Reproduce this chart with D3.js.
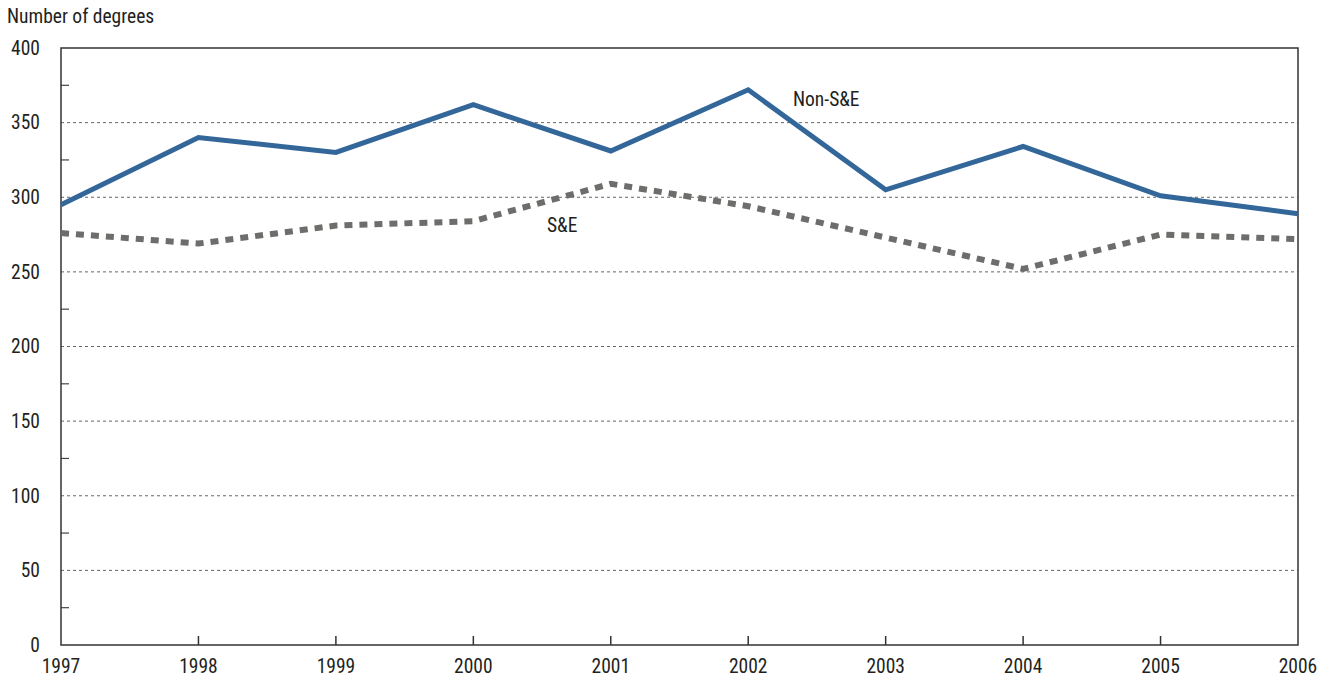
<!DOCTYPE html>
<html><head><meta charset="utf-8">
<script src="https://cdn.jsdelivr.net/npm/d3@7"></script>
<style>
body{margin:0;background:#fff;}
text{font-family:"Liberation Sans Narrow","Arial Narrow","Roboto Condensed",sans-serif;fill:#231f20;}
</style></head>
<body><svg id="c" width="1328" height="683"></svg>
<script>
const years = [1997,1998,1999,2000,2001,2002,2003,2004,2005,2006];
const nonSE = [295,340,330,362,331,372,305,334,301,289];
const se = [276,269,281,284,309,294,273,252,275,272];
const yTicks = [0,50,100,150,200,250,300,350,400];
const yMinor = [25,75,125,175,225,275,325,375];
const yTitle = "Number of degrees";

const svg = d3.select("#c");
const L=61,R=1298,T=48,B=645;
const FS=19.5;
const x = d3.scaleLinear().domain([1997,2006]).range([L,R]);
const y = d3.scaleLinear().domain([0,400]).range([B,T]);

svg.append("g").selectAll("line").data(yTicks.filter(d=>d>0&&d<400)).join("line")
  .attr("x1",L).attr("x2",R).attr("y1",d=>y(d)).attr("y2",d=>y(d))
  .attr("stroke","#666").attr("stroke-width",1).attr("stroke-dasharray","3,3");

svg.append("g").selectAll("line").data(yMinor).join("line")
  .attr("x1",L).attr("x2",L+8).attr("y1",d=>y(d)).attr("y2",d=>y(d))
  .attr("stroke","#444").attr("stroke-width",1.2);

svg.append("g").selectAll("line").data(years.slice(1,-1)).join("line")
  .attr("x1",d=>x(d)).attr("x2",d=>x(d)).attr("y1",B).attr("y2",B-9)
  .attr("stroke","#333").attr("stroke-width",1.5);

svg.append("rect").attr("x",L).attr("y",T).attr("width",R-L).attr("height",B-T)
  .attr("fill","none").attr("stroke","#333").attr("stroke-width",1.5);

svg.append("g").selectAll("text").data(yTicks).join("text")
  .attr("x",40).attr("y",d=>y(d)).attr("dy","0.35em").attr("text-anchor","end")
  .attr("font-size",FS).text(d=>d);

svg.append("g").selectAll("text").data(years).join("text")
  .attr("x",d=>x(d)).attr("y",B+28).attr("text-anchor","middle")
  .attr("font-size",FS).text(d=>d);

svg.append("text").attr("x",7).attr("y",23).attr("font-size",FS).text(yTitle);

const line = d3.line().x((d,i)=>x(years[i])).y(d=>y(d));
svg.append("path").datum(se).attr("d",line).attr("fill","none")
  .attr("stroke","#6d6d6b").attr("stroke-width",6).attr("stroke-dasharray","8,7");
svg.append("path").datum(nonSE).attr("d",line).attr("fill","none")
  .attr("stroke","#336699").attr("stroke-width",5).attr("stroke-linejoin","miter");

svg.append("text").attr("x",793).attr("y",106).attr("font-size",FS).text("Non-S&E");
svg.append("text").attr("x",547).attr("y",232).attr("font-size",FS).text("S&E");
</script></body></html>
